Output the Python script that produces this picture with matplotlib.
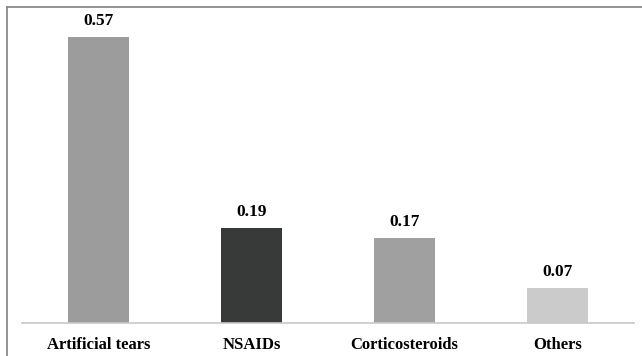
import matplotlib.pyplot as plt
from matplotlib.lines import Line2D

categories = ['Artificial tears', 'NSAIDs', 'Corticosteroids', 'Others']
values = [0.57, 0.19, 0.17, 0.07]
colors = ['#9c9c9c', '#383a39', '#a0a0a0', '#cbcbcb']

plt.rcParams['font.family'] = ['Liberation Serif', 'DejaVu Serif']

fig = plt.figure(figsize=(6.42, 3.56), dpi=100)
ax = fig.add_axes([22/642, 1 - 323/356, 612/642, 0.6*502/356])

x = range(len(categories))
bars = ax.bar(x, values, width=0.40, color=colors)

for b, v in zip(bars, values):
    ax.text(b.get_x() + b.get_width()/2, v + 0.016, '%.2f' % v,
            ha='center', va='bottom', fontsize=12.5, fontweight='bold')

ax.set_xlim(-0.5, 3.5)
ax.set_ylim(0, 0.6)
ax.set_xticks(list(x))
ax.set_xticklabels(categories, fontsize=12, fontweight='bold')
ax.tick_params(axis='x', length=0, pad=10)
ax.set_yticks([])
for s in ['top', 'right', 'left']:
    ax.spines[s].set_visible(False)
ax.spines['bottom'].set_color('#c8c8c8')
ax.spines['bottom'].set_linewidth(1.2)

# outer frame (left and top edges visible)
fx, fy = 7/642, 1 - 7/356
fig.add_artist(Line2D([fx, fx], [0, fy], transform=fig.transFigure, color='#8a8a8a', lw=1.3))
fig.add_artist(Line2D([fx, 1], [fy, fy], transform=fig.transFigure, color='#8a8a8a', lw=1.3))

fig.savefig('out.png', dpi=100)
